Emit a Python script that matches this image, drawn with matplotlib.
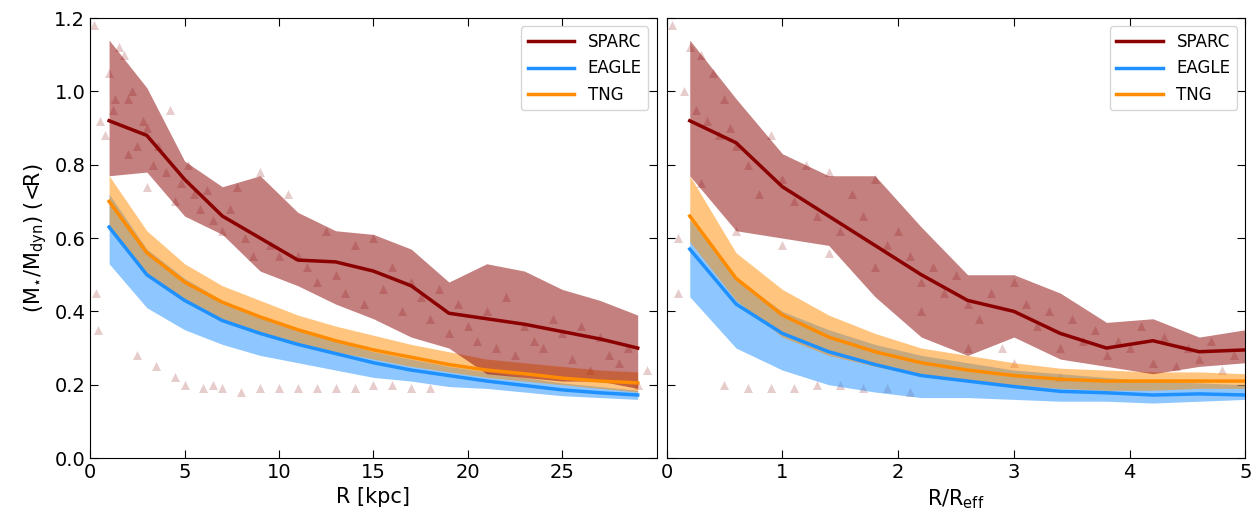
import matplotlib.pyplot as plt
import matplotlib.ticker as ticker
import numpy as np

# left panel: R [kpc]
r_kpc = [1, 3, 5, 7, 9, 11, 13, 15, 17, 19, 21, 23, 25, 27, 29]
sparc_med_l = [0.92, 0.88, 0.76, 0.66, 0.60, 0.54, 0.535, 0.51, 0.47, 0.395, 0.38, 0.365, 0.345, 0.325, 0.30]
sparc_lo_l = [0.77, 0.78, 0.66, 0.61, 0.51, 0.47, 0.42, 0.38, 0.33, 0.30, 0.23, 0.22, 0.21, 0.21, 0.19]
sparc_hi_l = [1.14, 1.01, 0.81, 0.74, 0.77, 0.67, 0.62, 0.61, 0.57, 0.48, 0.53, 0.51, 0.46, 0.43, 0.39]
eagle_med_l = [0.63, 0.50, 0.43, 0.375, 0.34, 0.31, 0.285, 0.26, 0.24, 0.225, 0.21, 0.198, 0.186, 0.178, 0.172]
eagle_lo_l = [0.53, 0.41, 0.35, 0.31, 0.28, 0.26, 0.24, 0.22, 0.21, 0.195, 0.19, 0.18, 0.17, 0.165, 0.16]
eagle_hi_l = [0.72, 0.57, 0.49, 0.43, 0.385, 0.35, 0.32, 0.29, 0.27, 0.25, 0.235, 0.22, 0.205, 0.195, 0.185]
tng_med_l = [0.70, 0.56, 0.48, 0.425, 0.385, 0.35, 0.32, 0.295, 0.275, 0.255, 0.24, 0.23, 0.218, 0.21, 0.205]
tng_lo_l = [0.63, 0.50, 0.43, 0.38, 0.345, 0.315, 0.29, 0.27, 0.25, 0.235, 0.22, 0.21, 0.20, 0.19, 0.18]
tng_hi_l = [0.77, 0.62, 0.53, 0.47, 0.43, 0.39, 0.36, 0.335, 0.31, 0.29, 0.27, 0.26, 0.25, 0.24, 0.235]

# right panel: R/Reff
r_eff = [0.2, 0.6, 1.0, 1.4, 1.8, 2.2, 2.6, 3.0, 3.4, 3.8, 4.2, 4.6, 5.0]
sparc_med_r = [0.92, 0.86, 0.74, 0.66, 0.58, 0.50, 0.43, 0.40, 0.34, 0.30, 0.32, 0.29, 0.295]
sparc_lo_r = [0.77, 0.62, 0.60, 0.58, 0.44, 0.33, 0.28, 0.33, 0.27, 0.25, 0.23, 0.25, 0.26]
sparc_hi_r = [1.14, 0.98, 0.83, 0.77, 0.77, 0.63, 0.50, 0.50, 0.45, 0.37, 0.38, 0.33, 0.35]
eagle_med_r = [0.57, 0.42, 0.34, 0.29, 0.255, 0.225, 0.21, 0.195, 0.182, 0.178, 0.172, 0.175, 0.172]
eagle_lo_r = [0.44, 0.30, 0.24, 0.20, 0.18, 0.165, 0.165, 0.16, 0.155, 0.155, 0.15, 0.155, 0.16]
eagle_hi_r = [0.65, 0.49, 0.40, 0.35, 0.31, 0.28, 0.26, 0.24, 0.23, 0.22, 0.21, 0.205, 0.20]
tng_med_r = [0.66, 0.49, 0.39, 0.33, 0.29, 0.26, 0.24, 0.225, 0.215, 0.21, 0.21, 0.21, 0.21]
tng_lo_r = [0.59, 0.43, 0.33, 0.28, 0.25, 0.225, 0.21, 0.20, 0.19, 0.185, 0.185, 0.19, 0.19]
tng_hi_r = [0.77, 0.56, 0.46, 0.39, 0.34, 0.30, 0.28, 0.26, 0.245, 0.24, 0.235, 0.235, 0.23]

# individual SPARC galaxies (approximate readings)
pts_x_l = [0.3, 0.5, 0.8, 1.0, 1.2, 1.5, 1.8, 2.0, 2.2, 2.5, 2.8, 3.0, 3.3, 3.6, 4.0, 4.2, 4.5, 4.8,
           5.2, 5.5, 5.8, 6.2, 6.5, 7.0, 7.4, 7.8, 8.2, 8.6, 9.0, 9.5, 10.0, 10.5, 11.0, 11.5, 12.0,
           12.5, 13.0, 13.5, 14.0, 14.5, 15.0, 15.5, 16.0, 16.5, 17.0, 17.5, 18.0, 18.5, 19.0, 19.5,
           20.0, 20.5, 21.0, 21.5, 22.0, 22.5, 23.0, 23.5, 24.0, 24.5, 25.0, 25.5, 26.0, 26.5, 27.0,
           27.5, 28.0, 28.5, 29.0, 29.5, 0.4, 3.5, 5.0, 6.0, 7.0, 8.0, 9.0, 10.0, 11.0, 12.0, 13.0,
           14.0, 15.0, 16.0, 17.0, 18.0, 2.5, 4.5, 6.5, 0.2, 1.3, 2.0, 3.0]
pts_y_l = [0.45, 0.92, 0.88, 1.05, 0.95, 1.12, 1.10, 0.98, 1.00, 0.85, 0.92, 0.90, 0.80, 0.85, 0.78, 0.95,
           0.70, 0.75, 0.80, 0.72, 0.68, 0.73, 0.65, 0.62, 0.68, 0.74, 0.60, 0.55, 0.78, 0.58, 0.55, 0.72,
           0.55, 0.52, 0.48, 0.62, 0.50, 0.45, 0.58, 0.42, 0.60, 0.46, 0.52, 0.40, 0.48, 0.44, 0.38, 0.46,
           0.34, 0.42, 0.36, 0.32, 0.40, 0.30, 0.44, 0.28, 0.36, 0.32, 0.30, 0.38, 0.34, 0.27, 0.36, 0.24,
           0.33, 0.28, 0.26, 0.30, 0.20, 0.24, 0.35, 0.25, 0.20, 0.19, 0.19, 0.18, 0.19, 0.19, 0.19, 0.19,
           0.19, 0.19, 0.20, 0.20, 0.19, 0.19, 0.28, 0.22, 0.20, 1.18, 0.98, 0.83, 0.74]
pts_x_r = [0.05, 0.1, 0.15, 0.2, 0.25, 0.3, 0.35, 0.4, 0.45, 0.5, 0.55, 0.6, 0.7, 0.8, 0.9, 1.0, 1.1,
           1.2, 1.3, 1.4, 1.5, 1.6, 1.7, 1.8, 1.9, 2.0, 2.1, 2.2, 2.3, 2.4, 2.5, 2.6, 2.7, 2.8, 2.9, 3.0,
           3.1, 3.2, 3.3, 3.4, 3.5, 3.6, 3.7, 3.8, 3.9, 4.0, 4.1, 4.2, 4.3, 4.4, 4.5, 4.6, 4.7, 4.8, 4.9,
           0.5, 0.7, 0.9, 1.1, 1.3, 1.5, 1.7, 1.9, 2.1, 0.1, 0.3, 0.6, 1.0, 1.4, 1.8, 2.2, 2.6, 3.0, 3.4]
pts_y_r = [1.18, 0.45, 1.00, 1.12, 0.95, 1.10, 0.92, 1.05, 0.88, 0.98, 0.90, 0.85, 0.80, 0.72, 0.88, 0.76,
           0.70, 0.80, 0.66, 0.78, 0.62, 0.72, 0.66, 0.76, 0.58, 0.62, 0.55, 0.48, 0.52, 0.45, 0.50, 0.42,
           0.38, 0.45, 0.30, 0.48, 0.42, 0.36, 0.40, 0.30, 0.38, 0.32, 0.35, 0.28, 0.32, 0.30, 0.36, 0.26,
           0.33, 0.25, 0.30, 0.27, 0.32, 0.24, 0.28, 0.20, 0.19, 0.19, 0.19, 0.20, 0.20, 0.19, 0.19, 0.18,
           0.60, 0.75, 0.62, 0.58, 0.56, 0.52, 0.40, 0.30, 0.26, 0.22]

SPARC_C = "#8b0000"
EAGLE_C = "#1e90ff"
TNG_C = "#ff8c00"

plt.rcParams["font.family"] = "DejaVu Sans"
fig = plt.figure(figsize=(12.53, 5.17), dpi=100)
ax1 = fig.add_axes([0.072, 0.114, 0.452, 0.851])
ax2 = fig.add_axes([0.532, 0.114, 0.462, 0.851])


def draw(ax, x, sp, ea, tn, px, py):
    ax.scatter(px, py, marker="^", s=42, color=SPARC_C, alpha=0.2, linewidths=0, zorder=1)
    ax.fill_between(x, ea[1], ea[2], color=EAGLE_C, alpha=0.5, linewidth=0, zorder=2)
    ax.fill_between(x, tn[1], tn[2], color=TNG_C, alpha=0.5, linewidth=0, zorder=2)
    ax.fill_between(x, sp[1], sp[2], color=SPARC_C, alpha=0.5, linewidth=0, zorder=2)
    ax.plot(x, sp[0], color=SPARC_C, lw=2.5, label="SPARC", zorder=3)
    ax.plot(x, ea[0], color=EAGLE_C, lw=2.5, label="EAGLE", zorder=3)
    ax.plot(x, tn[0], color=TNG_C, lw=2.5, label="TNG", zorder=3)
    ax.set_ylim(0, 1.2)
    ax.yaxis.set_major_formatter(ticker.FormatStrFormatter("%.1f"))
    ax.tick_params(direction="in", top=True, right=True, labelsize=14, length=6)
    ax.legend(loc="upper right", fontsize=12, handlelength=2.8)


draw(ax1, r_kpc, (sparc_med_l, sparc_lo_l, sparc_hi_l), (eagle_med_l, eagle_lo_l, eagle_hi_l),
     (tng_med_l, tng_lo_l, tng_hi_l), pts_x_l, pts_y_l)
draw(ax2, r_eff, (sparc_med_r, sparc_lo_r, sparc_hi_r), (eagle_med_r, eagle_lo_r, eagle_hi_r),
     (tng_med_r, tng_lo_r, tng_hi_r), pts_x_r, pts_y_r)

ax1.set_xlim(0, 30)
ax1.set_xticks([0, 5, 10, 15, 20, 25])
ax2.set_xlim(0, 5)
ax2.tick_params(labelleft=False)
ax1.set_xlabel("R [kpc]", fontsize=15)
ax2.set_xlabel(r"R/R$_{\rm eff}$", fontsize=15)
ax1.set_ylabel(r"(M$_{\star}$/M$_{\rm dyn}$) (<R)", fontsize=15)

fig.savefig("out.png", dpi=100, facecolor="white")
